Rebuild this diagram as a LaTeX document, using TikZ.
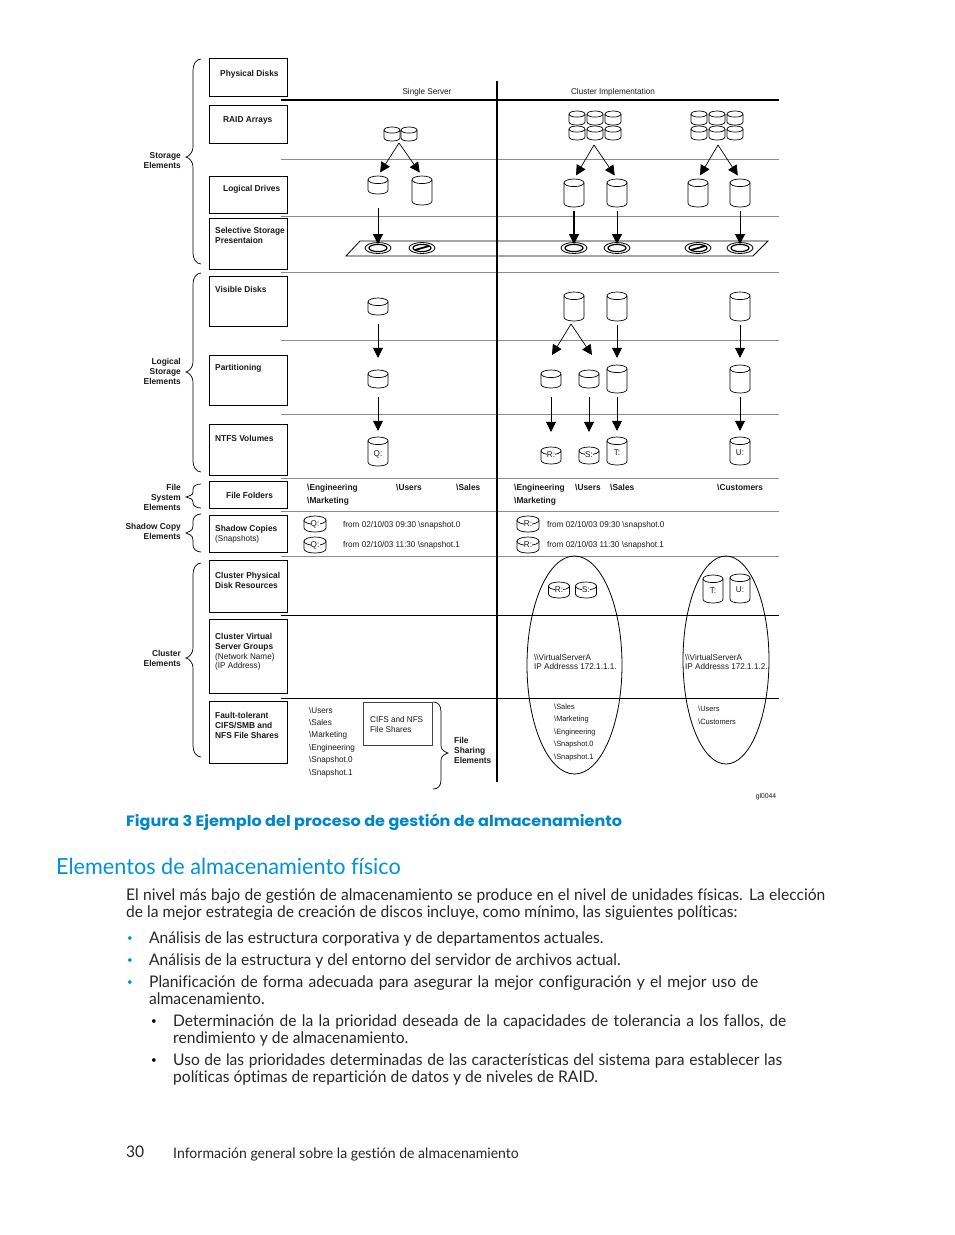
\documentclass[tikz,border=0pt]{standalone}
\usepackage{fontspec}
\setmainfont[FakeStretch=0.975,Ligatures=NoCommon]{Lato}
\newfontfamily\dg[FakeStretch=0.97]{Liberation Sans}
\newfontfamily\capf[FakeStretch=1.07]{Poppins}
\usetikzlibrary{arrows.meta,shapes.geometric,calc}
\definecolor{hpblue}{RGB}{0,146,214}
\definecolor{capblue}{RGB}{0,135,200}
\definecolor{ink}{RGB}{25,25,25}
\definecolor{rulegray}{RGB}{140,140,140}
\tikzset{
  lab/.style={inner sep=0,anchor=base west,text=ink,font=\dg\fontsize{8.4}{10}\selectfont,align=left},
  blab/.style={inner sep=0,anchor=base west,text=ink,font=\dg\bfseries\fontsize{8.6}{10}\selectfont,align=left},
  rlab/.style={inner sep=0,anchor=base east,text=ink,font=\dg\bfseries\fontsize{8.6}{10}\selectfont,align=right},
  bx/.style={draw=black,line width=0.8pt,inner sep=0,anchor=north west},
  grule/.style={draw=rulegray,line width=0.7pt},
  krule/.style={draw=black,line width=0.7pt},
  thickrule/.style={draw=black,line width=2pt},
  diskline/.style={draw=black,line width=0.7pt,fill=white},
  arr/.style={draw=black,line width=0.7pt,-{Triangle[length=10pt,width=10pt]}},
  brace/.style={draw=black,line width=0.7pt},
  body/.style={inner sep=0,anchor=base west,text=black!85,font=\fontsize{16}{17}\selectfont},
  dot/.style={inner sep=0,anchor=base west,font=\fontsize{10}{11}\selectfont},
}
% name, cx, top, bottom, width, label
\newcommand\cyl[6]{%
  \pgfmathsetmacro\xl{#2-#5/2}\pgfmathsetmacro\xr{#2+#5/2}
  \pgfmathsetmacro\rr{#5*0.19}
  \pgfmathsetmacro\ya{#3+\rr}\pgfmathsetmacro\yb{#4-\rr}\pgfmathsetmacro\yc{#4+\rr/3}
  \pgfmathsetmacro\ym{(#3+#4)/2}\pgfmathsetmacro\hgt{#4-#3}
  \draw[diskline] (\xl,\ya) -- (\xl,\yb) .. controls (\xl,\yc) and (\xr,\yc) .. (\xr,\yb) -- (\xr,\ya);
  \draw[diskline] (#2,\ya) ellipse [x radius=#5/2,y radius=\rr];
  \node[inner sep=0,minimum width=#5 pt,minimum height=\hgt pt] (#1) at (#2,\ym) {};
}
\newcommand\cyllab[7]{\cyl{#1}{#2}{#3}{#4}{#5}{}%
  \node[inner sep=0.2pt,fill=white,font=\dg\fontsize{8.4}{9}\selectfont,text=ink] (#1t) at (#2,#7) {#6};}
\newcommand\dsk[3]{%
  \node[ellipse,draw=black,fill=white,line width=0.8pt,minimum width=26pt,minimum height=11pt,inner sep=0] (#1) at (#2,248) {};
  \draw[black,line width=1.2pt,fill=white] (#2,248) ellipse [x radius=9,y radius=3.6];
  #3
}
\newcommand\dslash[1]{\draw[black,line width=1.8pt] (#1-7,250) -- (#1+7,246);}
% top, tip, bottom, r
\newcommand\bral[4]{\draw[brace] (201,#1) .. controls (196,#1) and (193,#1+#4/2) .. (193,#1+#4) -- (193,#2-#4) .. controls (193,#2-#4/3) and (189,#2-1) .. (186,#2) .. controls (189,#2+1) and (193,#2+#4/3) .. (193,#2+#4) -- (193,#3-#4) .. controls (193,#3-#4/2) and (196,#3) .. (201,#3);}
\begin{document}
\begin{tikzpicture}[x=1pt,y=-1pt]
\useasboundingbox (0,0) rectangle (954,1235);
% rules
\foreach \y in {159,216,272,340,414,478,511,556} \draw[grule] (281,\y) -- (779,\y);
\foreach \y in {615,698} \draw[krule] (281,\y) -- (779,\y);
\draw[thickrule] (281,100) -- (779,100);
\draw[thickrule] (497,81) -- (497,782);
% left boxes
\foreach \nm/\ta/\bo in {pd/58/96,ra/105/143,ld/176/213,ss/218/269,vd/276/326,pt/355/405,nt/424/475,ff/481/508,sc/515/552,cp/560/612,cv/619/693,ft/701/763}{
  \pgfmathsetmacro\hh{\bo-\ta}
  \node[bx,minimum width=78pt,minimum height=\hh pt] (\nm) at (209,\ta) {};
}
\node[blab] (tpd) at (220,76) {Physical Disks};
\node[blab] (tra) at (223,122) {RAID Arrays};
\node[blab] (tld) at (223,191) {Logical Drives};
\node[blab,anchor=north west] (tss) at (215,227) {Selective Storage\\Presentaion};
\node[blab] (tvd) at (215,292) {Visible Disks};
\node[blab] (tpt) at (215,370) {Partitioning};
\node[blab] (tnt) at (215,441) {NTFS Volumes};
\node[blab] (tff) at (226,498) {File Folders};
\node[blab] (tsc) at (215,531) {Shadow Copies};
\node[lab] (tsc2) at (215,541) {(Snapshots)};
\node[blab,anchor=north west] (tcp) at (215,572) {Cluster Physical\\Disk Resources};
\node[blab,anchor=north west] (tcv) at (215,633) {Cluster Virtual\\Server Groups};
\node[lab,anchor=north west] (tcv2) at (215,653) {(Network Name)\\[-1pt](IP Address)};
\node[blab,anchor=north west] (tft) at (215,712) {Fault-tolerant\\CIFS/SMB and\\NFS File Shares};
% braces
\bral{59}{157}{264}{11}
\bral{273}{372}{472}{11}
\bral{484}{497}{508}{5}
\bral{514}{533}{552}{7}
\bral{563}{658}{757}{11}
\draw[brace] (433,702) .. controls (438,702) and (441,705) .. (441,712) -- (441,746) .. controls (441,750) and (445,752) .. (448,753) .. controls (445,754) and (441,756) .. (441,760) -- (441,780) .. controls (441,786) and (438,789) .. (433,789);
\node[rlab,anchor=north east] (bs) at (181,152) {Storage\\Elements};
\node[rlab,anchor=north east] (bl) at (181,358) {Logical\\Storage\\Elements};
\node[rlab,anchor=north east] (bf) at (181,484) {File\\System\\Elements};
\node[rlab,anchor=north east] (bc) at (181,523) {Shadow Copy\\Elements};
\node[rlab,anchor=north east] (bk) at (181,650) {Cluster\\Elements};
\node[blab,anchor=north west] (bh) at (454,737) {File\\Sharing\\Elements};
% headers
\node[lab,anchor=base] (h1) at (427,94) {Single Server};
\node[lab,anchor=base] (h2) at (613,94) {Cluster Implementation};
% raid disks
\cyl{r1}{392}{127}{141}{16}{}\cyl{r2}{409}{127}{141}{16}{}
\foreach \x [count=\i] in {577,595,613}{\cyl{a\i}{\x}{111}{125}{16}{}\cyl{b\i}{\x}{126}{140}{16}{}}
\foreach \x [count=\i] in {699,717,735}{\cyl{c\i}{\x}{111}{125}{16}{}\cyl{d\i}{\x}{126}{140}{16}{}}
% logical drives
\cyl{l1}{378}{176}{194}{20}{}\cyl{l2}{422}{176}{205}{20}{}
\cyl{l3}{574}{179}{207}{20}{}\cyl{l4}{617}{179}{207}{20}{}
\cyl{l5}{698}{179}{207}{20}{}\cyl{l6}{740}{179}{207}{20}{}
% presentation plane
\draw[black,line width=0.8pt] (346,256) -- (360,241) -- (768,241) -- (753,256) -- cycle;
\dsk{s1}{378}{}
\dsk{s2}{422}{\dslash{422}}
\dsk{s3}{574}{}
\dsk{s4}{617}{}
\dsk{s5}{698}{\dslash{698}}
\dsk{s6}{740}{}
% visible
\cyl{v1}{378}{298}{315}{20}{}
\cyl{v2}{574}{292}{321}{20}{}\cyl{v3}{617}{292}{321}{20}{}\cyl{v4}{740}{292}{321}{20}{}
% partition
\cyl{p1}{378}{370}{388}{20}{}
\cyl{p2}{551}{370}{388}{20}{}\cyl{p3}{589}{370}{388}{20}{}
\cyl{p4}{617}{365}{393}{20}{}\cyl{p5}{740}{365}{393}{20}{}
% volumes
\cyllab{n1}{378}{437}{466}{20}{Q:}{454}
\cyllab{n2}{551}{447}{464}{20}{R:}{455}
\cyllab{n3}{589}{447}{464}{20}{S:}{455}
\cyllab{n4}{617}{437}{465}{20}{T:}{453}
\cyllab{n5}{740}{437}{465}{20}{U:}{453}
% apex coordinates
\coordinate (x1) at (399,143);
\coordinate (x2) at (594,145);
\coordinate (x3) at (718,145);
\coordinate (x4) at (571,324);
\coordinate (x5) at (552,355);
\coordinate (x6) at (592,355);
\draw[arr,shorten >=4pt] (x1) -- (l1.north);
\draw[arr,shorten >=4pt] (x1) -- (l2.north);
\draw[arr,shorten >=4pt] (x2) -- (l3.north);
\draw[arr,shorten >=4pt] (x2) -- (l4.north);
\draw[arr,shorten >=4pt] (x3) -- (l5.north);
\draw[arr,shorten >=4pt] (x3) -- (l6.north);
\draw[arr] (x4) -- (x5);
\draw[arr] (x4) -- (x6);
\draw[arr,shorten <=14pt,shorten >=-2pt] (l1.south) -- (s1.north);
\draw[arr,line width=1.4pt,shorten <=4pt,shorten >=-2pt] (l3.south) -- (s3.north);
\draw[arr,shorten <=4pt,shorten >=-2pt] (l4.south) -- (s4.north);
\draw[arr,shorten <=4pt,shorten >=-2pt] (l6.south) -- (s6.north);
\draw[arr,shorten <=9pt,shorten >=12pt] (v1.south) -- (p1.north);
\draw[arr,shorten <=4pt,shorten >=7pt] (v3.south) -- (p4.north);
\draw[arr,shorten <=4pt,shorten >=7pt] (v4.south) -- (p5.north);
\draw[arr,shorten <=9pt,shorten >=6pt] (p1.south) -- (n1.north);
\draw[arr,shorten <=9pt,shorten >=15pt] (p2.south) -- (n2.north);
\draw[arr,shorten <=9pt,shorten >=15pt] (p3.south) -- (n3.north);
\draw[arr,shorten <=4pt,shorten >=6pt] (p4.south) -- (n4.north);
\draw[arr,shorten <=4pt,shorten >=6pt] (p5.south) -- (n5.north);
% file folders
\node[blab] (f1) at (307,490) {\textbackslash Engineering};
\node[blab] (f2) at (396,490) {\textbackslash Users};
\node[blab] (f3) at (456,490) {\textbackslash Sales};
\node[blab] (f4) at (307,503) {\textbackslash Marketing};
\node[blab] (f5) at (514,490) {\textbackslash Engineering};
\node[blab] (f6) at (575,490) {\textbackslash Users};
\node[blab] (f7) at (610,490) {\textbackslash Sales};
\node[blab] (f8) at (717,490) {\textbackslash Customers};
\node[blab] (f9) at (514,503) {\textbackslash Marketing};
% snapshots
\cyllab{q1}{315}{516}{532}{22}{Q:}{524}
\cyllab{q2}{315}{537}{553}{22}{Q:}{545}
\cyllab{q3}{528}{516}{532}{22}{R:}{524}
\cyllab{q4}{528}{537}{553}{22}{R:}{545}
\node[lab] (g1) at (343,527) {from 02/10/03 09:30 \textbackslash snapshot.0};
\node[lab] (g2) at (343,547) {from 02/10/03 11:30 \textbackslash snapshot.1};
\node[lab] (g3) at (547,527) {from 02/10/03 09:30 \textbackslash snapshot.0};
\node[lab] (g4) at (547,547) {from 02/10/03 11:30 \textbackslash snapshot.1};
% ellipses
\draw[black,line width=0.8pt] (574.5,665) ellipse [x radius=47.5,y radius=109];
\draw[black,line width=0.8pt] (726,660) ellipse [x radius=43,y radius=104];
\cyllab{e1}{559}{582}{598}{21}{R:}{590}
\cyllab{e2}{586}{582}{598}{21}{S:}{590}
\cyllab{e3}{713}{575}{603}{20}{T:}{591}
\cyllab{e4}{740}{574}{603}{20}{U:}{590}
\node[lab,anchor=north west] (v5) at (534,654) {\textbackslash\textbackslash VirtualServerA\\[-1pt]IP Addresss 172.1.1.1.};
\node[lab,anchor=north west] (v6) at (685,654) {\textbackslash\textbackslash VirtualServerA\\[-1pt]IP Addresss 172.1.1.2.};
\foreach \ww/\y [count=\i] in {Sales/709,Marketing/721,Engineering/734,Snapshot.0/746,Snapshot.1/759}
  \node[lab,font=\dg\fontsize{7.6}{9}\selectfont] (w\i) at (554,\y) {\textbackslash\ww};
\node[lab,font=\dg\fontsize{7.6}{9}\selectfont] (w6) at (698,711) {\textbackslash Users};
\node[lab,font=\dg\fontsize{7.6}{9}\selectfont] (w7) at (698,724) {\textbackslash Customers};
% shares
\foreach \ww/\y [count=\i] in {Users/713,Sales/725,Marketing/737,Engineering/750,Snapshot.0/762,Snapshot.1/775}
  \node[lab] (u\i) at (309,\y) {\textbackslash\ww};
\node[bx,draw=black!75,minimum width=69pt,minimum height=43pt] (cf) at (363,702) {};
\node[lab,anchor=north west] (cft) at (370,716) {CIFS and NFS\\File Shares};
\node[lab,font=\dg\fontsize{7}{8}\selectfont,anchor=base] (gl) at (766,798) {gl0044};
% lower text
\node[inner sep=0,anchor=base west,text=capblue,font=\capf\bfseries\fontsize{15}{17}\selectfont] (cap) at (126,826) {Figura 3 Ejemplo del proceso de gestión de almacenamiento};
\node[inner sep=0,anchor=base west,text=hpblue,font=\fontsize{22.2}{26}\selectfont] (hd) at (56,874) {Elementos de almacenamiento físico};
\node[body] (t1) at (126,900) {\hbox to 699pt{El nivel más bajo de gestión de almacenamiento se produce en el nivel de unidades físicas. La elección}};
\node[body] (t2) at (126,917) {de la mejor estrategia de creación de discos incluye, como mínimo, las siguientes políticas:};
\node[dot,text=hpblue] (d1) at (127,941) {•};
\node[body] (t3) at (149,943) {Análisis de las estructura corporativa y de departamentos actuales.};
\node[dot,text=hpblue] (d2) at (127,963) {•};
\node[body] (t4) at (149,965) {Análisis de la estructura y del entorno del servidor de archivos actual.};
\node[dot,text=hpblue] (d3) at (127,985) {•};
\node[body] (t5) at (149,987) {\hbox to 609pt{Planificación de forma adecuada para asegurar la mejor configuración y el mejor uso de}};
\node[body] (t6) at (149,1004) {almacenamiento.};
\node[dot,text=black] (d4) at (151,1024) {•};
\node[body] (t7) at (173,1026) {\hbox to 613pt{Determinación de la la prioridad deseada de la capacidades de tolerancia a los fallos, de}};
\node[body] (t8) at (173,1043) {rendimiento y de almacenamiento.};
\node[dot,text=black] (d5) at (151,1063) {•};
\node[body] (t9) at (173,1065) {\hbox to 609pt{Uso de las prioridades determinadas de las características del sistema para establecer las}};
\node[body] (t10) at (173,1082) {políticas óptimas de repartición de datos y de niveles de RAID.};
\node[body] (pg) at (126,1157) {30};
\node[body,font=\fontsize{14.4}{16}\selectfont] (ft2) at (173,1158) {Información general sobre la gestión de almacenamiento};
\end{tikzpicture}
\end{document}
